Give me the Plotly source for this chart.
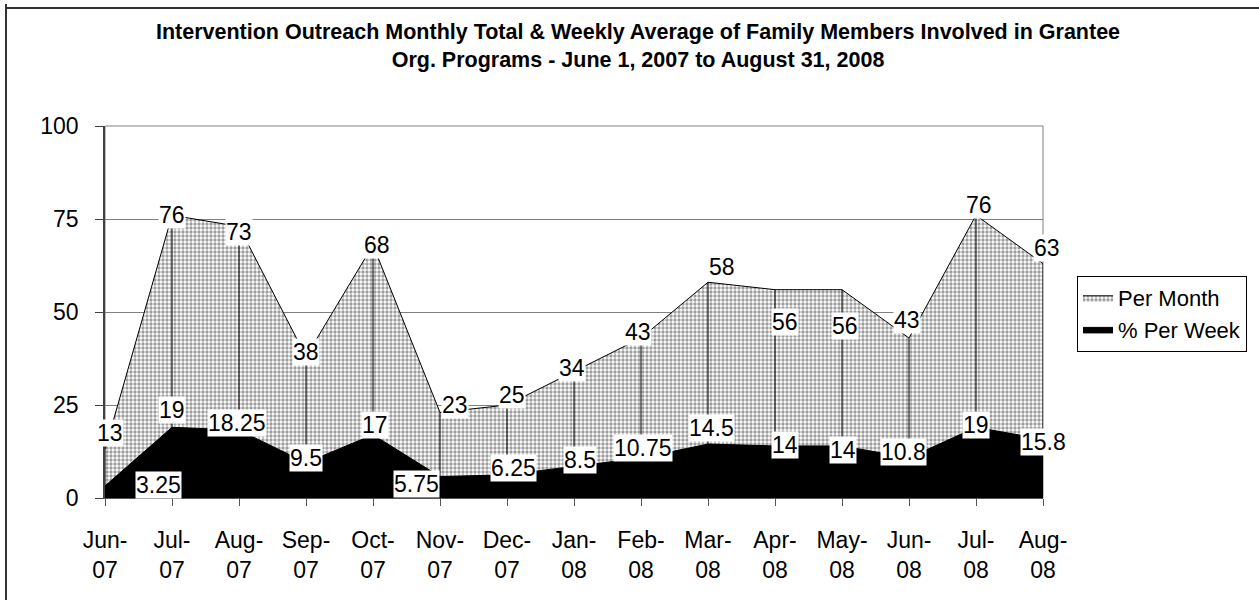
import plotly.graph_objects as go

# ---------------- data ----------------
months = ["Jun-07", "Jul-07", "Aug-07", "Sep-07", "Oct-07", "Nov-07", "Dec-07", "Jan-08",
          "Feb-08", "Mar-08", "Apr-08", "May-08", "Jun-08", "Jul-08", "Aug-08"]
tick_labels = ["Jun-<br>07", "Jul-<br>07", "Aug-<br>07", "Sep-<br>07", "Oct-<br>07", "Nov-<br>07",
               "Dec-<br>07", "Jan-<br>08", "Feb-<br>08", "Mar-<br>08", "Apr-<br>08", "May-<br>08",
               "Jun-<br>08", "Jul-<br>08", "Aug-<br>08"]
per_month = [13, 76, 73, 38, 68, 23, 25, 34, 43, 58, 56, 56, 43, 76, 63]
per_week = [3.25, 19, 18.25, 9.5, 17, 5.75, 6.25, 8.5, 10.75, 14.5, 14, 14, 10.8, 19, 15.8]
y_ticks = [0, 25, 50, 75, 100]

# label placement nudges in screen pixels (dx right, dy down)
month_label_shift = [(5, -17), (0, 0), (0, 6), (0, -5), (4, 0), (15, -7), (5, -10), (-2, -4),
                     (-3, -6), (14, -15), (10, 32), (3, 36), (-2, -18), (3, -10), (4, -16)]
week_label_shift = [(53, -1), (0, -17), (-2, -7), (0, -5), (2, -10), (-24, 7), (6, -7), (6, -6),
                    (2, -10), (3, -16), (10, -1), (1, 4), (-6, -6), (0, -2), (0, 3)]

FONT = "Liberation Sans, Arial, sans-serif"
FS = 23
xs = list(range(len(months)))

fig = go.Figure()

fig.add_trace(go.Scatter(
    x=xs, y=per_month, name="Per Month", mode="lines",
    line=dict(color="black", width=1),
    fill="tozeroy",
    fillpattern=dict(shape=".", bgcolor="white", fgcolor="#3a3a3a", size=4, solidity=0.55),
    hoverinfo="skip",
))

# drop lines
dx, dy = [], []
for i, v in zip(xs, per_month):
    dx += [i, i, None]
    dy += [0, v, None]
fig.add_trace(go.Scatter(x=dx, y=dy, mode="lines", line=dict(color="black", width=1),
                         showlegend=False, hoverinfo="skip"))

fig.add_trace(go.Scatter(
    x=xs, y=per_week, name="% Per Week", mode="lines",
    line=dict(color="black", width=1),
    fill="tozeroy", fillcolor="black", hoverinfo="skip",
))

annotations = []
for i, v in enumerate(per_month):
    sx, sy = month_label_shift[i]
    annotations.append(dict(x=i, y=v, xref="x", yref="y", text=f"{v:g}", showarrow=False,
                            xshift=sx, yshift=-sy, bgcolor="white", borderpad=0,
                            font=dict(family=FONT, size=FS, color="black")))
for i, v in enumerate(per_week):
    sx, sy = week_label_shift[i]
    annotations.append(dict(x=i, y=v, xref="x", yref="y", text=f"{v:g}", showarrow=False,
                            xshift=sx, yshift=-sy, bgcolor="white", borderpad=0,
                            font=dict(family=FONT, size=FS, color="black")))

# plot geometry (pixels)
L, R, T, B = 105, 216, 126, 102
W, H = 1259, 600
pw, ph = W - L - R, H - T - B
def px2paper_x(p):
    return (p - L) / pw
def px2paper_y(p):
    return (H - B - p) / ph

shapes = [
    dict(type="rect", xref="paper", yref="paper", x0=0, x1=1, y0=0, y1=1,
         line=dict(color="#808080", width=1), layer="below"),
    # outer chart frame: top edge
    dict(type="line", xref="paper", yref="paper", x0=px2paper_x(5), x1=px2paper_x(1259),
         y0=px2paper_y(8), y1=px2paper_y(8), line=dict(color="#333333", width=2)),
]

fig.update_layout(
    width=W, height=H, autosize=False,
    margin=dict(l=L, r=R, t=T, b=B, pad=0, autoexpand=False),
    paper_bgcolor="white", plot_bgcolor="white",
    font=dict(family=FONT, size=FS, color="black"),
    title=dict(
        text="Intervention Outreach Monthly Total & Weekly Average of Family Members Involved in Grantee<br>"
             "Org. Programs - June 1, 2007 to August 31, 2008",
        x=638 / W, xanchor="center", xref="container",
        y=1 - 39 / H, yanchor="top", yref="container",
        font=dict(family=FONT, size=21.5, color="black", weight="bold"),
    ),
    showlegend=True,
    legend=dict(x=px2paper_x(1077), y=px2paper_y(276), xanchor="left", yanchor="top",
                bordercolor="black", borderwidth=1, bgcolor="white",
                font=dict(family=FONT, size=22, color="black"),
                traceorder="normal"),
    annotations=annotations,
    shapes=shapes,
)

fig.update_xaxes(range=[0, 14], tickvals=xs, ticktext=tick_labels, showgrid=False,
                 zeroline=False, showline=True, linecolor="#555555", linewidth=1,
                 ticks="outside", ticklen=7, tickcolor="#555555",
                 tickfont=dict(family=FONT, size=FS, color="black"),
                 ticklabelstandoff=14)
fig.update_yaxes(range=[0, 100], tickvals=y_ticks, showgrid=True, gridcolor="#808080",
                 gridwidth=1, zeroline=False, showline=True, linecolor="#404040", linewidth=1.5,
                 ticks="outside", ticklen=8, tickcolor="#404040",
                 tickfont=dict(family=FONT, size=FS, color="black"),
                 ticklabelstandoff=12)

# outer chart frame: left edge
frame_js = (
    "document.body.style.margin='0';document.body.style.overflow='hidden';"
    "var f=document.createElement('div');"
    "f.style.cssText='position:absolute;left:5px;top:4px;width:3000px;height:3000px;"
    "border-left:2px solid #333;pointer-events:none;z-index:10;';"
    "document.body.appendChild(f);"
)
fig.write_html("out.html", config={"displayModeBar": False}, post_script=frame_js)
